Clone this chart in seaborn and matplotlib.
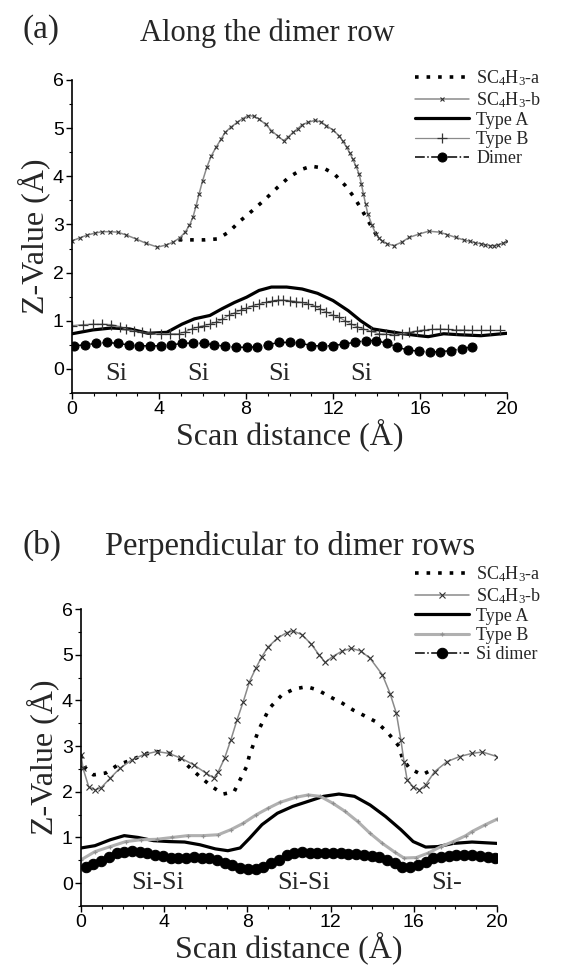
import matplotlib
matplotlib.use("Agg")
import matplotlib.pyplot as plt
import numpy as np
import pandas as pd
import seaborn as sns
from matplotlib.ticker import MultipleLocator

# ---------------- data: (a) along the dimer row ----------------
a_sc_a_x = [4.9, 5.5, 6.1, 6.7, 7.2, 7.75, 8.3, 8.9, 9.45, 10.0, 10.6, 11.0, 11.57,
            12.06, 12.56, 12.98, 13.34, 13.7, 13.97, 14.2]
a_sc_a_y = [2.68, 2.68, 2.68, 2.70, 2.84, 3.08, 3.29, 3.53, 3.77, 3.99, 4.15, 4.21, 4.17,
            4.05, 3.81, 3.56, 3.29, 3.01, 2.80, 2.68]

a_sc_b_x = [0.0, 0.35, 0.7, 1.05, 1.39, 1.75, 2.1, 2.5, 2.94, 3.4, 3.93, 4.3, 4.64, 4.95,
            5.2, 5.4, 5.56, 5.7, 5.84, 6.0, 6.2, 6.4, 6.62, 6.85, 7.04, 7.3, 7.6, 7.85,
            8.1, 8.35, 8.6, 8.9, 9.17, 9.45, 9.73, 9.95, 10.16, 10.38, 10.58, 10.85,
            11.15, 11.45, 11.7, 12.0, 12.28, 12.45, 12.63, 12.78, 12.9, 13.05, 13.2,
            13.3, 13.4, 13.5, 13.6, 13.8, 13.97, 14.1, 14.26, 14.5, 14.8, 15.15, 15.5,
            15.95, 16.4, 16.9, 17.25, 17.65, 18.0, 18.3, 18.55, 18.8, 19.0, 19.2, 19.4,
            19.6, 19.8, 20.0]
a_sc_b_y = [2.66, 2.72, 2.78, 2.82, 2.85, 2.85, 2.84, 2.78, 2.70, 2.61, 2.53, 2.57, 2.63,
            2.72, 2.84, 2.98, 3.15, 3.38, 3.63, 3.90, 4.19, 4.42, 4.60, 4.77, 4.91,
            5.02, 5.12, 5.20, 5.26, 5.25, 5.19, 5.08, 4.95, 4.84, 4.74, 4.82, 4.91,
            4.99, 5.07, 5.12, 5.16, 5.13, 5.05, 4.96, 4.84, 4.73, 4.60, 4.48, 4.36,
            4.22, 4.05, 3.85, 3.63, 3.42, 3.22, 2.98, 2.80, 2.72, 2.66, 2.60, 2.56,
            2.63, 2.73, 2.80, 2.86, 2.84, 2.79, 2.73, 2.68, 2.65, 2.62, 2.60, 2.58,
            2.56, 2.56, 2.58, 2.61, 2.65]

a_type_a_x = [0.0, 0.96, 1.81, 2.66, 3.5, 4.36, 5.06, 5.63, 6.34, 6.9, 7.47, 8.03, 8.6,
              9.17, 9.87, 10.58, 11.29, 12.0, 12.7, 13.27, 13.83, 14.54, 15.25, 15.95,
              16.38, 17.09, 17.8, 18.8, 20.0]
a_type_a_y = [0.73, 0.81, 0.85, 0.83, 0.74, 0.76, 0.93, 1.04, 1.11, 1.25, 1.38, 1.49, 1.63,
              1.70, 1.70, 1.66, 1.57, 1.42, 1.21, 1.00, 0.83, 0.78, 0.73, 0.69,
              0.67, 0.73, 0.71, 0.69, 0.74]

a_type_b_x = [0.0, 0.5, 0.96, 1.4, 1.81, 2.2, 2.5, 2.85, 3.2, 3.6, 4.07, 4.5, 4.9, 5.2,
              5.5, 5.8, 6.05, 6.35, 6.62, 6.9, 7.2, 7.5, 7.75, 8.0, 8.3, 8.6, 8.9, 9.2,
              9.45, 9.7, 10.0, 10.3, 10.58, 10.85, 11.15, 11.4, 11.7, 12.0, 12.28, 12.55,
              12.84, 13.1, 13.4, 13.75, 14.1, 14.45, 14.8, 15.15, 15.5, 15.85, 16.2,
              16.55, 16.9, 17.3, 17.65, 18.0, 18.4, 18.8, 19.2, 19.7]
a_type_b_y = [0.90, 0.92, 0.93, 0.93, 0.92, 0.88, 0.83, 0.79, 0.76, 0.74, 0.73, 0.73,
              0.73, 0.77, 0.83, 0.87, 0.90, 0.93, 0.97, 1.03, 1.11, 1.17, 1.22, 1.26,
              1.31, 1.35, 1.38, 1.41, 1.43, 1.43, 1.42, 1.40, 1.38, 1.35, 1.31, 1.25,
              1.18, 1.12, 1.07, 1.00, 0.93, 0.88, 0.83, 0.78, 0.73, 0.72, 0.71, 0.73,
              0.76, 0.79, 0.81, 0.82, 0.83, 0.82, 0.81, 0.81, 0.80, 0.80, 0.80, 0.80]

a_dimer_x = [0.1, 0.6, 1.1, 1.6, 2.1, 2.6, 3.1, 3.6, 4.07, 4.57, 5.06, 5.56, 6.05, 6.55,
             7.04, 7.54, 8.03, 8.5, 9.0, 9.5, 10.0, 10.5, 11.0, 11.5, 12.0, 12.5, 13.0,
             13.5, 13.97, 14.5, 14.96, 15.46, 15.95, 16.45, 16.94, 17.44, 17.93, 18.4]
a_dimer_y = [0.48, 0.50, 0.53, 0.55, 0.53, 0.50, 0.48, 0.48, 0.48, 0.50, 0.53, 0.54,
             0.53, 0.50, 0.47, 0.45, 0.45, 0.46, 0.50, 0.55, 0.55, 0.54, 0.48, 0.48,
             0.48, 0.52, 0.55, 0.59, 0.59, 0.53, 0.45, 0.39, 0.37, 0.35, 0.36, 0.38,
             0.42, 0.46]

a_si_x = [2.05, 5.8, 9.55, 13.3]
a_si_labels = ["Si", "Si", "Si", "Si"]

# ---------------- data: (b) perpendicular to dimer rows ----------------
b_sc_a_x = [0.0, 0.15, 0.6, 1.19, 1.78, 2.45, 3.05, 3.64, 4.23, 4.83, 5.3, 5.72, 6.3,
            6.84, 7.36, 7.95, 8.1, 8.54, 9.06, 9.66, 10.25, 10.85, 11.37, 11.96, 12.56,
            13.08, 13.6, 14.19, 14.7, 15.3, 15.45, 15.8, 16.4, 16.86]
b_sc_a_y = [2.80, 2.55, 2.37, 2.41, 2.59, 2.70, 2.82, 2.88, 2.84, 2.70, 2.50, 2.33, 2.11,
            1.95, 2.00, 2.54, 2.80, 3.35, 3.83, 4.12, 4.25, 4.30, 4.23, 4.08, 3.94,
            3.79, 3.67, 3.53, 3.32, 2.99, 2.73, 2.51, 2.37, 2.48]

b_sc_b_x = [0.0, 0.1, 0.37, 0.67, 0.97, 1.41, 1.86, 2.45, 3.05, 3.64, 4.23, 4.83, 5.42,
            6.0, 6.39, 6.6, 6.9, 7.2, 7.5, 7.8, 8.1, 8.4, 8.7, 9.0, 9.44, 9.88, 10.18,
            10.62, 11.07, 11.44, 11.74, 12.1, 12.56, 13.0, 13.45, 13.9, 14.49, 14.86,
            15.16, 15.38, 15.53, 15.68, 15.97, 16.27, 16.57, 17.0, 17.6, 18.2, 18.8,
            19.3, 20.0]
b_sc_b_y = [2.80, 2.51, 2.11, 2.04, 2.09, 2.30, 2.51, 2.70, 2.82, 2.88, 2.84, 2.73, 2.59,
            2.41, 2.30, 2.44, 2.73, 3.13, 3.57, 3.97, 4.41, 4.70, 4.96, 5.17, 5.36, 5.48,
            5.52, 5.44, 5.23, 5.00, 4.83, 4.96, 5.08, 5.14, 5.08, 4.92, 4.56, 4.15,
            3.72, 3.13, 2.66, 2.26, 2.11, 2.04, 2.15, 2.44, 2.66, 2.77, 2.84,
            2.87, 2.77]

b_type_a_x = [0.0, 0.67, 1.41, 2.08, 2.75, 3.49, 4.23, 4.98, 5.72, 6.46, 7.06, 7.65, 8.1,
              8.7, 9.44, 10.18, 10.92, 11.66, 12.4, 13.15, 13.9, 14.64, 15.38, 15.97,
              16.57, 17.16, 17.9, 18.8, 20.0]
b_type_a_y = [0.77, 0.82, 0.95, 1.04, 1.00, 0.93, 0.91, 0.90, 0.84, 0.75, 0.71, 0.77, 0.98,
              1.28, 1.53, 1.68, 1.79, 1.90, 1.95, 1.90, 1.71, 1.46, 1.17, 0.91,
              0.79, 0.80, 0.87, 0.90, 0.87]

b_type_b_x = [0.0, 0.67, 1.41, 2.15, 2.9, 3.64, 4.38, 5.13, 5.87, 6.6, 7.2, 7.8, 8.4, 9.0,
              9.58, 10.33, 10.92, 11.5, 12.1, 12.7, 13.3, 13.9, 14.49, 15.08, 15.53,
              16.12, 16.7, 17.3, 17.9, 18.5, 18.8, 19.4, 20.0]
b_type_b_y = [0.51, 0.69, 0.80, 0.91, 0.95, 0.96, 1.00, 1.04, 1.04, 1.06, 1.17, 1.31, 1.49,
              1.64, 1.77, 1.88, 1.93, 1.90, 1.75, 1.57, 1.35, 1.09, 0.87, 0.68, 0.55,
              0.56, 0.66, 0.80, 0.91, 1.04, 1.13, 1.27, 1.40]

b_dimer_x = [0.22, 0.59, 0.97, 1.34, 1.71, 2.08, 2.45, 2.82, 3.19, 3.57, 3.94, 4.31, 4.68,
             5.05, 5.42, 5.8, 6.17, 6.54, 6.91, 7.28, 7.65, 8.02, 8.4, 8.77, 9.14, 9.51,
             9.88, 10.25, 10.62, 11.0, 11.37, 11.74, 12.11, 12.48, 12.85, 13.22, 13.6,
             13.97, 14.34, 14.71, 15.08, 15.45, 15.82, 16.2, 16.57, 16.94, 17.3, 17.68,
             18.05, 18.42, 18.8, 19.17, 19.55, 19.92]
b_dimer_y = [0.36, 0.42, 0.49, 0.57, 0.65, 0.68, 0.71, 0.69, 0.66, 0.62, 0.59, 0.56, 0.56,
             0.56, 0.57, 0.56, 0.55, 0.51, 0.44, 0.39, 0.34, 0.31, 0.31, 0.36, 0.44, 0.51,
             0.62, 0.66, 0.68, 0.67, 0.66, 0.66, 0.66, 0.65, 0.64, 0.64, 0.62,
             0.60, 0.57, 0.51, 0.44, 0.36, 0.36, 0.39, 0.47, 0.55, 0.58, 0.60,
             0.62, 0.62, 0.62, 0.60, 0.58, 0.55]

b_si_x = [3.7, 10.7, 17.6]
b_si_labels = ["Si-Si", "Si-Si", "Si-"]

x_ticks = [0, 4, 8, 12, 16, 20]
y_ticks = [0, 1, 2, 3, 4, 5, 6]

# ---------------- style ----------------
sns.set_theme(style="ticks")
plt.rcParams["font.family"] = ["Liberation Serif", "DejaVu Serif"]
plt.rcParams["mathtext.fontset"] = "custom"
plt.rcParams["mathtext.rm"] = "Liberation Serif"
plt.rcParams["mathtext.it"] = "Liberation Serif:italic"

W, H = 564, 969
fig = plt.figure(figsize=(W / 100, H / 100), dpi=100)
fig.patch.set_facecolor("white")


def fx(px):
    return px / W


def fy(py):
    return 1 - py / H


def line(ax, xs, ys, **kw):
    df = pd.DataFrame({"x": xs, "y": ys})
    sns.lineplot(data=df, x="x", y="y", ax=ax, sort=False, estimator=None, **kw)


def draw_panel(ax, series, si_x, si_labels, si_y, leg_anchor, legend_labels):
    (sa_x, sa_y), (sb_x, sb_y), (ta_x, ta_y), (tb_x, tb_y), (d_x, d_y), st = series
    line(ax, sa_x, sa_y, color="black", linestyle=(0, (1.0, 2.2)), linewidth=2.6,
         label=legend_labels[0])
    line(ax, sb_x, sb_y, color="#8a8a8a", linewidth=1.1, marker="x",
         markersize=st["bms"], markeredgecolor="#333333", markeredgewidth=0.8,
         label=legend_labels[1])
    line(ax, ta_x, ta_y, color="black", linewidth=2.3, label=legend_labels[2])
    line(ax, tb_x, tb_y, color=st["color"], linewidth=st["lw"], marker="+",
         markersize=st["ms"], markeredgecolor=st["mec"], markeredgewidth=0.9,
         label=legend_labels[3])
    line(ax, d_x, d_y, color="black", linestyle="-.", linewidth=1.1, marker="o",
         markersize=st["dms"], markerfacecolor="black", markeredgecolor="black",
         label=legend_labels[4])

    for x, t in zip(si_x, si_labels):
        ax.text(x, si_y, t, fontsize=19, ha="center", va="center",
                family="Liberation Serif")

    ax.set_xlim(0, 20)
    ax.set_ylim(-0.5, 6)
    ax.set_xticks(x_ticks)
    ax.set_yticks(y_ticks)
    ax.xaxis.set_minor_locator(MultipleLocator(1))
    ax.yaxis.set_minor_locator(MultipleLocator(0.5))
    ax.tick_params(which="major", direction="out", length=4, width=1, labelsize=14,
                   color="black", labelcolor="black", pad=2)
    ax.tick_params(which="minor", direction="out", length=2, width=0.8, color="black")
    for lab in ax.get_xticklabels() + ax.get_yticklabels():
        lab.set_fontfamily("Liberation Sans")
    for s in ["top", "right"]:
        ax.spines[s].set_visible(False)
    for s in ["left", "bottom"]:
        ax.spines[s].set_color("black")
        ax.spines[s].set_linewidth(1.2)
    ax.set_facecolor("white")
    ax.grid(False)
    ax.set_xlabel("Scan distance (Å)", fontsize=23, labelpad=0)
    ax.set_ylabel("Z-Value (Å)", fontsize=23, labelpad=2)

    h, l = ax.get_legend_handles_labels()
    ax.legend(h, l, loc="upper left", bbox_to_anchor=leg_anchor,
              bbox_transform=fig.transFigure, frameon=False, fontsize=13,
              handlelength=3.0, handletextpad=0.4, labelspacing=0.12,
              borderpad=0, borderaxespad=0)


# panel (a)
ax1 = fig.add_axes([fx(72), fy(393), fx(507) - fx(72), fy(80) - fy(393)])
draw_panel(
    ax1,
    ((a_sc_a_x, a_sc_a_y), (a_sc_b_x, a_sc_b_y), (a_type_a_x, a_type_a_y),
     (a_type_b_x, a_type_b_y), (a_dimer_x, a_dimer_y),
     {"color": "#8a8a8a", "lw": 0.9, "ms": 7, "mec": "#333333", "dms": 6.5, "bms": 3.5}),
    a_si_x, a_si_labels, -0.1,
    (fx(415), fy(68)),
    [r"SC$_4$H$_3$-a", r"SC$_4$H$_3$-b", "Type A", "Type B", "Dimer"],
)

# panel (b)
ax2 = fig.add_axes([fx(81), fy(906), fx(497) - fx(81), fy(609) - fy(906)])
draw_panel(
    ax2,
    ((b_sc_a_x, b_sc_a_y), (b_sc_b_x, b_sc_b_y), (b_type_a_x, b_type_a_y),
     (b_type_b_x, b_type_b_y), (b_dimer_x, b_dimer_y),
     {"color": "#b0b0b0", "lw": 2.2, "ms": 3.5, "mec": "#909090", "dms": 7.5, "bms": 4}),
    b_si_x, b_si_labels, 0.0,
    (fx(415), fy(564)),
    [r"SC$_4$H$_3$-a", r"SC$_4$H$_3$-b", "Type A", "Type B", "Si dimer"],
)

fig.text(fx(22), fy(30), "(a)", fontsize=24, ha="left", va="center")
fig.text(fx(140), fy(33), "Along the dimer row", fontsize=22, ha="left", va="center")
fig.text(fx(22), fy(545), "(b)", fontsize=24, ha="left", va="center")
fig.text(fx(105), fy(547), "Perpendicular to dimer rows", fontsize=23.5, ha="left",
         va="center")

fig.savefig("out.png", dpi=100, facecolor="white")
